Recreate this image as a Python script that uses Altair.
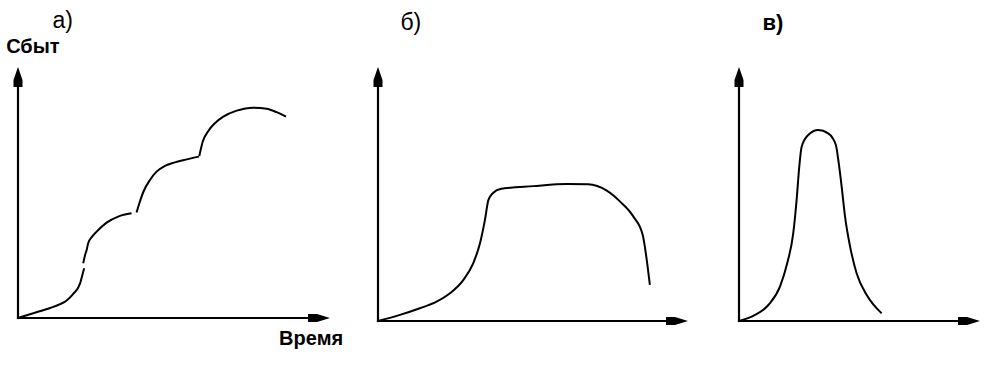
import altair as alt
import pandas as pd

H = 388  # canvas height

# ---------- data (time 0..100 along x-axis, sales 0..100 along y-axis) ----------
# panel а) – four successive waves
a1_t = [0, 4.9, 10.3, 13.5, 15.6, 17.7, 19.9, 20.9, 21.2]
a1_s = [0, 1.9, 4.0, 5.5, 7.0, 9.6, 13.8, 18.4, 19.8]
a2_t = [20.9, 21.5, 22.0, 22.5, 23.7, 25.2, 28.4, 32.1, 36.4]
a2_s = [21.8, 25.1, 27.1, 29.8, 32.3, 34.4, 38.0, 40.4, 41.7]
a3_t = [38.0, 38.9, 40.2, 42.3, 44.4, 47.1, 50.3, 54.1, 58.0]
a3_s = [42.0, 45.7, 50.3, 55.0, 58.3, 60.6, 62.0, 63.2, 64.3]
a4_t = [58.1, 59.2, 61.0, 63.1, 65.8, 70.1, 75.4, 79.7, 82.9, 85.9]
a4_s = [64.5, 70.2, 74.5, 77.6, 80.2, 82.6, 83.8, 83.4, 82.0, 80.2]

# panel б) – growth, plateau, fall
b_t = [0, 7.1, 13.5, 18.9, 23.2, 27.5, 30.7, 32.9, 34.5, 35.6, 37.2, 39.4,
       50.1, 60.9, 67.8, 73.8, 78.1, 82.4, 85.4, 86.7, 87.7]
b_s = [0, 2.4, 5.0, 7.6, 10.9, 16.1, 22.7, 30.6, 39.8, 47.6, 50.5, 52.0,
       53.1, 53.9, 53.8, 51.3, 47.0, 41.1, 33.9, 24.0, 14.2]

# panel в) – short peak
c_t = [0, 5.9, 12.2, 17.0, 20.0, 22.5, 23.9, 25.0, 26.0, 28.7, 32.9, 37.0,
       40.2, 41.2, 42.6, 44.0, 46.1, 48.8, 53.0, 59.2]
c_s = [0, 2.0, 6.3, 13.5, 22.7, 34.5, 47.6, 60.7, 68.6, 73.2, 75.2, 73.9,
       69.3, 63.4, 52.9, 41.1, 29.3, 18.8, 10.2, 3.0]

panel_labels = ["а)", "б)", "в)"]
y_title = "Сбыт"
x_title = "Время"

FONT = "Liberation Sans"
XHEAD = "M0,0 L-1.3,-0.4 L-2.2,-0.4 L-2.2,0.4 L-1.3,0.4 Z"
YHEAD = "M0,0 L0.45,1.3 L0.45,2.0 L-0.45,2.0 L-0.45,1.3 Z"


def panel(width, ox, tx, oy, ty, curve, texts):
    kx = (tx - ox) / 100.0
    ky = (oy - ty) / 100.0
    xs = alt.Scale(domain=[-ox / kx, (width - ox) / kx], nice=False, zero=False)
    ys = alt.Scale(domain=[-(H - oy) / ky, oy / ky], nice=False, zero=False)

    line = alt.Chart(curve).mark_line(
        color="black", strokeWidth=2, interpolate="monotone"
    ).encode(
        x=alt.X("t:Q", scale=xs, axis=None),
        y=alt.Y("s:Q", scale=ys, axis=None),
        detail="seg:N",
    )

    ax = pd.DataFrame({"x0": [0, 0], "x1": [96, 0], "y0": [0, 0], "y1": [0, 95]})
    axes = alt.Chart(ax).mark_rule(color="black", strokeWidth=2.2, strokeCap="square").encode(
        x=alt.X("x0:Q", scale=xs, axis=None), x2="x1:Q",
        y=alt.Y("y0:Q", scale=ys, axis=None), y2="y1:Q",
    )
    xh = alt.Chart(pd.DataFrame({"x": [100], "y": [0]})).mark_point(
        shape=XHEAD, size=400, filled=True, color="black", opacity=1, strokeWidth=0
    ).encode(x=alt.X("x:Q", scale=xs, axis=None), y=alt.Y("y:Q", scale=ys, axis=None))
    yh = alt.Chart(pd.DataFrame({"x": [0], "y": [100]})).mark_point(
        shape=YHEAD, size=400, filled=True, color="black", opacity=1, strokeWidth=0
    ).encode(x=alt.X("x:Q", scale=xs, axis=None), y=alt.Y("y:Q", scale=ys, axis=None))

    layers = [axes, xh, yh, line]
    for (label, tx_, ty_, align, size, weight) in texts:
        layers.append(
            alt.Chart(pd.DataFrame({"x": [tx_], "y": [ty_], "label": [label]})).mark_text(
                align=align, baseline="middle", font=FONT, fontSize=size,
                fontWeight=weight, color="black",
            ).encode(
                x=alt.X("x:Q", scale=xs, axis=None),
                y=alt.Y("y:Q", scale=ys, axis=None),
                text="label:N",
            )
        )
    return alt.layer(*layers).properties(width=width, height=H)


def frame(pairs):
    rows = []
    for seg, (ts, ss) in enumerate(pairs):
        for t, s in zip(ts, ss):
            rows.append({"t": t, "s": s, "seg": seg})
    return pd.DataFrame(rows)


pa = panel(350, 18, 330, 318, 67,
           frame([(a1_t, a1_s), (a2_t, a2_s), (a3_t, a3_s), (a4_t, a4_s)]),
           [(panel_labels[0], 14.3, 118.3, "center", 23, "normal"),
            (y_title, -3.8, 108.0, "left", 20, "bold"),
            (x_title, 104.2, -8.2, "right", 20, "bold")])
pb = panel(355, 28, 338, 321, 67, frame([(b_t, b_s)]),
           [(panel_labels[1], 10.6, 117.3, "center", 23, "normal")])
pc = panel(286, 34, 275, 321, 67, frame([(c_t, c_s)]),
           [(panel_labels[2], 14.1, 117.3, "center", 22, "bold")])

chart = alt.hconcat(pa, pb, pc, spacing=0).properties(
    padding=0, background="white"
).configure_view(stroke=None)

chart.save("out.html", embed_options={"renderer": "svg", "actions": False})
